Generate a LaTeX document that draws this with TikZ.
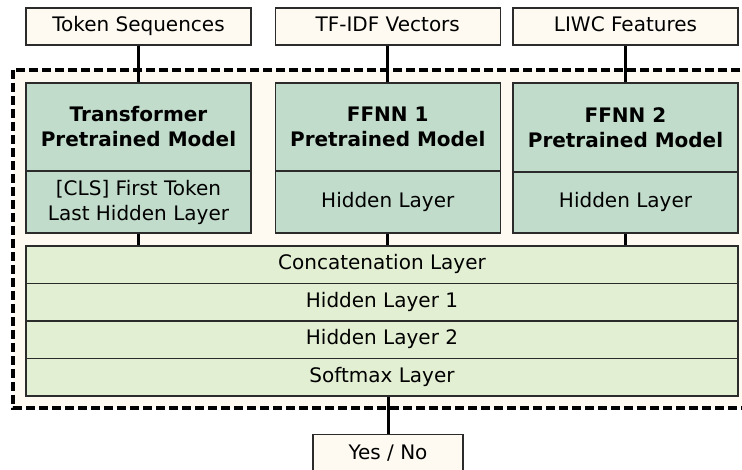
\documentclass[tikz,border=0pt]{standalone}
\usepackage{fontspec}
\setmainfont{DejaVu Sans}
\definecolor{cream}{HTML}{FEFAF2}
\definecolor{sage}{HTML}{C1DCCA}
\definecolor{pale}{HTML}{E3EFD2}
\definecolor{edge}{HTML}{2B2B2B}
\tikzset{
  box/.style={draw=edge, line width=1.5pt, inner sep=0pt, align=center,
    font=\fontsize{20}{25}\selectfont},
  oneline/.style={text height=15pt, text depth=4.6pt},
  inbox/.style={box, oneline, fill=cream, minimum width=225pt, minimum height=37pt},
  modelcell/.style={box, fill=sage, minimum width=225pt},
  layer/.style={box, oneline, fill=pale, minimum width=712pt, minimum height=37.5pt},
  link/.style={line width=3pt, black},
  frame/.style={draw=black, fill=cream, line width=3.2pt, dash pattern=on 9pt off 4pt},
}
\begin{document}
\begin{tikzpicture}[x=1pt, y=-1pt]
\useasboundingbox (0,0) rectangle (742,470);
% dashed enclosure of the combined network (runs past the right margin)
\begin{scope}
\clip (0,0) rectangle (742,470);
\draw[frame] (13,70) rectangle (760,408);
\end{scope}

% inputs
\node[inbox] (tok)   at (138.5,26.5) {Token Sequences};
\node[inbox] (tfidf) at (387.75,26.5) {TF-IDF Vectors};
\node[inbox] (liwc)  at (625.5,26.5) {LIWC Features};

% pretrained branches
\node[modelcell, minimum height=88pt] (trT) at (138.5,127) {\textbf{Transformer}\\\textbf{Pretrained Model}};
\node[modelcell, minimum height=62pt] (trB) at (138.5,202) {[CLS] First Token\\Last Hidden Layer};
\node[modelcell, minimum height=88pt] (f1T) at (387.75,127) {\textbf{FFNN 1}\\\textbf{Pretrained Model}};
\node[modelcell, oneline, minimum height=62pt] (f1B) at (387.75,202) {Hidden Layer};
\node[modelcell, minimum height=89pt] (f2T) at (625.5,127.5) {\textbf{FFNN 2}\\\textbf{Pretrained Model}};
\node[modelcell, oneline, minimum height=61pt] (f2B) at (625.5,202.5) {Hidden Layer};

% joint layers
\node[layer] (concat) at (382,264.75) {Concatenation Layer};
\node[layer] (hid1)   at (382,302.25) {Hidden Layer 1};
\node[layer] (hid2)   at (382,339.75) {Hidden Layer 2};
\node[layer] (soft)   at (382,377.25) {Softmax Layer};

% output (its lower edge falls just below the page)
\node[inbox, minimum width=150pt, minimum height=38pt, text height=16pt, text depth=4pt] (yn) at (388,453.3) {Yes / No};

% connectors
\draw[link] (tok.south) -- (trT.north);
\draw[link] (tfidf.south) -- (f1T.north);
\draw[link] (liwc.south) -- (f2T.north);
\draw[link] (trB.south) -- (trB.south |- concat.north);
\draw[link] (f1B.south) -- (f1B.south |- concat.north);
\draw[link] (f2B.south) -- (f2B.south |- concat.north);
\draw[link] (yn.north |- soft.south) -- (yn.north);
\end{tikzpicture}
\end{document}
